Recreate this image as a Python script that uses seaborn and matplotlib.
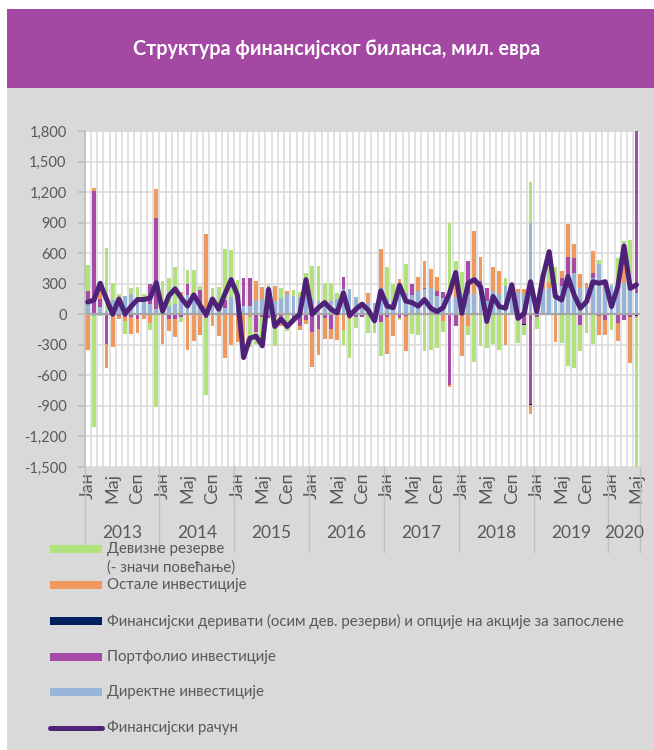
import numpy as np
import matplotlib
matplotlib.use("Agg")
import matplotlib.pyplot as plt
import matplotlib.transforms as mtransforms
from matplotlib.patches import Rectangle
from matplotlib.lines import Line2D
from matplotlib.ticker import FuncFormatter
import seaborn as sns

# --- data (mil. EUR, monthly Jan 2013 - May 2020) ---
years = ["2013", "2014", "2015", "2016", "2017", "2018", "2019", "2020"]
month_names = {0: "Јан", 4: "Мај", 8: "Сеп"}

direct = [130, -20, 70, 30, 145, 90, 180, 200, 150, 130, 100, 50,
          115, 80, 100, 130, 190, 150, 80, 50, 80, 100, 60, 165,
          160, 80, 80, 130, 150, 160, 130, 160, 200, 180, 165, 180,
          150, 130, 120, 130, 150, 245, 245, 170, 90, 110, 110, 260,
          150, 130, 230, 210, 190, 230, 245, 260, 180, 160, 235, 165,
          200, 195, 195, 195, 130, 230, 200, 280, 220, 215, 200, 900,
          150, 250, 260, 300, 280, 260, 410, 260, 260, 360, 490, 300,
          290, 240, 310, 290, 210]
portfolio = [100, 1210, 80, -295, 0, -20, -30, -30, -50, 0, 200, 900,
             0, -50, -50, -30, 110, 50, 160, -40, 0, 0, 80, 0,
             -20, 275, 280, -170, -30, -40, -30, -20, 0, -60, -120, -60,
             -170, -140, -40, -140, 0, 125, -30, -30, -30, 0, -20, -80,
             -30, 0, -40, -20, 110, 0, 15, 0, 50, 60, -690, -115,
             0, 325, 0, 130, 130, 0, 0, 0, 0, 0, -95, -885,
             -30, 0, 0, 0, 80, 300, 145, -110, 0, 50, -20, -60,
             0, -90, -60, -30, 1590]
derivatives = [0] * 70 + [-10, -10] + [0] * 16 + [-15]
other = [-355, 35, 150, -230, -320, -30, -40, -165, -130, -50, -90, 280,
         -295, -115, -170, 90, -350, -260, -205, 735, -115, -215, -425, -300,
         -250, -280, -30, 200, 120, 110, 150, -100, 30, -30, -30, -40,
         -350, -260, -200, -100, -250, -150, -20, 0, 0, 100, -20, 380,
         -360, -210, 115, -340, 0, 135, 260, 185, 140, -70, -20, 210,
         -405, -115, 620, 235, 0, 230, 225, -300, 40, 30, 45, -85,
         0, 120, 60, -270, 65, 325, 135, 135, 50, 210, -180, -140,
         0, -170, 200, -445, -20]
reserves = [255, -1090, -20, 620, 160, 105, -120, 55, 120, 65, -65, -910,
            215, 280, 365, -50, 135, 235, 40, -750, 180, 170, 500, 465,
            180, -60, -290, -120, -220, 20, -280, 100, -160, 60, 50, 230,
            325, 345, 190, 180, 60, -150, -380, -100, 0, -180, -140, -330,
            310, 165, -20, 280, -190, -200, -360, -355, -335, -100, 665, 150,
            220, -85, -465, -310, -335, -290, -350, 80, 50, -280, -100, 400,
            -110, 0, 140, 160, -280, -510, -525, -250, -180, -290, 40, 0,
            -150, 310, 210, 440, -1480]
financial_account = [120, 140, 305, 150, 0, 150, 5, 80, 145, 145, 160, 310,
                     30, 180, 250, 160, 80, 190, 90, -5, 150, 50, 200, 340,
                     190, -425, -235, -215, -310, 245, -120, -45, -120, -55, 0, 340,
                     0, 65, 115, 50, 15, 210, -15, 50, 100, 40, -65, 230,
                     80, 65, 285, 130, 115, 80, 145, 60, 26, 65, 205, 410,
                     10, 305, 340, 270, -70, 175, 75, 60, 290, -40, 10, 320,
                     26, 370, 615, 175, 140, 370, 190, 60, 125, 320, 305, 320,
                     76, 270, 670, 255, 290]

GREEN = "#B2E27C"
ORANGE = "#F0995F"
NAVY = "#002060"
PURPLE = "#A64CA6"
BLUE = "#97B5D9"
LINE = "#4F2279"
GRID = "#D9D9D9"
TXT = "#595959"
BANNER = "#A349A4"
PANEL = "#D9D9D9"

sns.set_theme(style="white")
plt.rcParams["font.family"] = ["Lato", "Open Sans", "DejaVu Sans"]

W, H = 654, 750
fig = plt.figure(figsize=(W / 100, H / 100), dpi=100)
fig.patch.set_facecolor("white")


def fx(px):
    return px / W


def fy(py):
    return 1 - py / H


# banner + grey panel (behind the axes)
fig.patches.append(Rectangle((fx(7), fy(750)), fx(647), 662 / H, transform=fig.transFigure,
                             facecolor=PANEL, edgecolor="none", zorder=-2))
fig.patches.append(Rectangle((fx(7), fy(88)), fx(647), 79 / H, transform=fig.transFigure,
                             facecolor=BANNER, edgecolor="none", zorder=-2))
fig.text(fx(337), fy(49), "Структура финансијског биланса, мил. евра", color="white",
         fontsize=14.2, fontweight="bold", ha="center", va="center")

ax = fig.add_axes([fx(84.6), fy(467), (639.6 - 84.6) / W, 336 / H])
ax.set_facecolor("white")

months = np.arange(len(direct))
series = [direct, portfolio, derivatives, other, reserves]
colors = [BLUE, PURPLE, NAVY, ORANGE, GREEN]
vals = np.array(series, dtype=float)
pos_stack = np.clip(vals, 0, None).cumsum(axis=0)
neg_stack = np.clip(vals, None, 0).cumsum(axis=0)

# stacked bars: draw outer cumulative layers first, inner ones on top
for k in reversed(range(len(series))):
    for stack in (pos_stack, neg_stack):
        sns.barplot(x=months, y=stack[k], color=colors[k], width=0.6, saturation=1,
                    errorbar=None, linewidth=0, orient="x", ax=ax)

ax.axhline(0, color="#A6A6A6", lw=1.6, zorder=2)
sns.lineplot(x=months, y=financial_account, color=LINE, linewidth=3.6, ax=ax, zorder=4,
             solid_joinstyle="round", solid_capstyle="round")

ax.set_xlim(-0.5, len(months) - 0.5)
ax.set_ylim(-1500, 1800)
ax.set_yticks(range(-1500, 1801, 300))
ax.yaxis.set_major_formatter(FuncFormatter(lambda v, p: f"{int(v):,}"))

tick_pos = [i for i in months if i % 12 in month_names]
ax.set_xticks(tick_pos)
ax.set_xticklabels([month_names[i % 12] for i in tick_pos], rotation=90)
ax.set_xticks(np.arange(-0.5, len(months), 1), minor=True)
ax.set_axisbelow(True)
ax.grid(False)
ax.grid(which="minor", axis="x", color=GRID, lw=1.1)
ax.grid(which="major", axis="y", color=GRID, lw=1.1)
ax.set_xlabel("")
ax.set_ylabel("")

for s in ["top", "right", "bottom"]:
    ax.spines[s].set_visible(False)
ax.spines["left"].set_color("#BFBFBF")
ax.tick_params(axis="y", length=5, color="#BFBFBF", labelcolor=TXT, labelsize=10.5, pad=8, left=True)
ax.tick_params(axis="x", which="both", length=0, labelcolor=TXT, labelsize=13, pad=4)

# year labels and separators under the axis
trans = mtransforms.blended_transform_factory(ax.transData, ax.transAxes)
bounds = [-0.5 + 12 * k for k in range(len(years))] + [len(months) - 0.5]
for k, yr in enumerate(years):
    mid = (bounds[k] + bounds[k + 1]) / 2
    ax.text(mid, -0.195, yr, transform=trans, ha="center", va="center", fontsize=12.5, color=TXT)
for b in bounds:
    ax.add_line(Line2D([b, b], [0, -0.253], transform=trans, color="#BFBFBF", lw=1, clip_on=False))

# legend
legend_items = [
    (GREEN, "Девизне резерве", 549),
    (ORANGE, "Остале инвестиције", 585),
    (NAVY, "Финансијски деривати (осим дев. резерви) и опције на акције за запослене", 621),
    (PURPLE, "Портфолио инвестиције", 657),
    (BLUE, "Директне инвестиције", 692),
]
for col, label, yc in legend_items:
    fig.patches.append(Rectangle((fx(50), fy(yc + 4)), fx(52), 8 / H, transform=fig.transFigure,
                                 facecolor=col, edgecolor="none"))
    fig.text(fx(107), fy(yc), label, color=TXT, fontsize=10.8, ha="left", va="center")
fig.text(fx(107), fy(568), "(- значи повећање)", color=TXT, fontsize=10.8, ha="left", va="center")
fig.lines.append(Line2D([fx(50), fx(102)], [fy(728), fy(728)], transform=fig.transFigure,
                        color=LINE, lw=3.6, solid_capstyle="round"))
fig.text(fx(107), fy(728), "Финансијски рачун", color=TXT, fontsize=10.8, ha="left", va="center")

fig.savefig("out.png", dpi=100)
